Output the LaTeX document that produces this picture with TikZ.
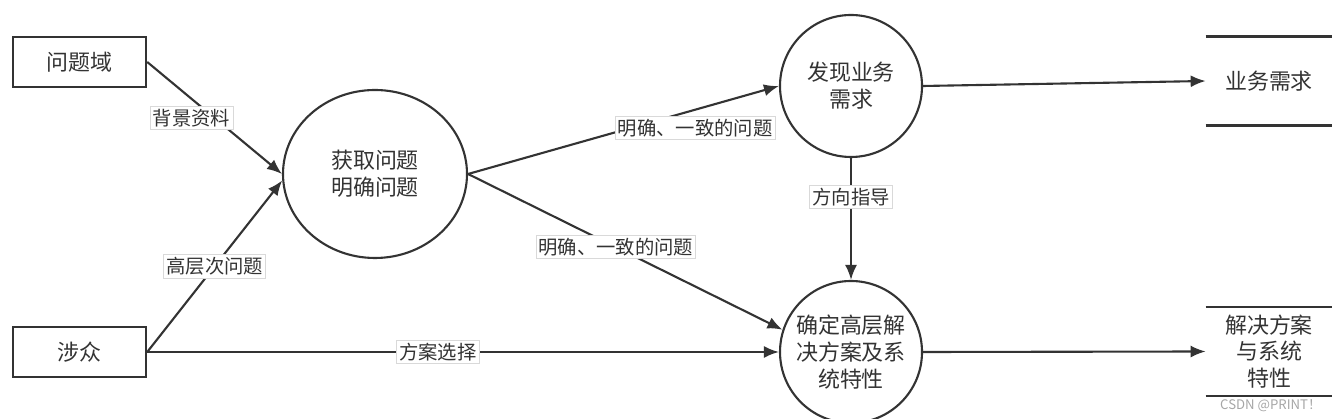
\documentclass[tikz,border=0pt]{standalone}
\usepackage{fontspec}
\setmainfont{Noto Sans CJK SC}
\usetikzlibrary{arrows.meta, positioning, shapes}
\definecolor{ink}{HTML}{333333}

\begin{document}
\begin{tikzpicture}[
    entity/.style={rectangle, draw=ink, line width=1.4pt, minimum width=2.66cm, minimum height=1cm, text=ink, font=\fontsize{12.5}{15.5}\selectfont},
    process/.style={circle, draw=ink, line width=1.2pt, minimum size=2.84cm, inner sep=0pt, align=center, text=ink, font=\fontsize{12.5}{15.5}\selectfont},
    store/.style={minimum width=2.52cm, minimum height=1.76cm, inner sep=0pt, align=center, text=ink, font=\fontsize{12.5}{15}\selectfont},
    flow/.style={draw=ink, line width=1.2pt, -{Latex[length=3mm, width=2.4mm]}},
    lbl/.style={fill=white, draw=gray!30, line width=0.4pt, inner sep=1.5pt, text=ink, font=\fontsize{11}{13}\selectfont}
]
\useasboundingbox (0,0) rectangle (26.8,8.38);

% External entities
\node[entity] (b1) at (1.59,7.14) {问题域};
\node[entity] (b2) at (1.59,1.34) {涉众};

% Processes
\node[process, ellipse, minimum width=3.68cm, minimum height=3.36cm] (c1) at (7.5,4.9) {获取问题\\明确问题};
\node[process] (c2) at (17.02,6.66) {发现业务\\需求};
\node[process] (c3) at (17.02,1.34) {确定高层解\\决方案及系\\统特性};

% Data stores
\node[store] (s1) at (25.38,6.76) {业务需求};
\node[store] (s2) at (25.38,1.35) {解决方案\\与系统\\特性};
\draw[ink, line width=1.4pt] (s1.north west) -- (s1.north east) (s1.south west) -- (s1.south east);
\draw[ink, line width=1.4pt] (s2.north west) -- (s2.north east) (s2.south west) -- (s2.south east);

% Flows
\draw[flow] (b1.east) -- (c1.west) node[lbl, midway, xshift=-0.46cm] (l1) {背景资料};
\draw[flow] (b2.east) -- (c1.184) node[lbl, midway] (l2) {高层次问题};
\draw[flow] (b2.east) -- (c3.west) node[lbl, pos=0.46] (l3) {方案选择};
\draw[flow] (c1.east) -- (c2.west) node[lbl, pos=0.73, yshift=-0.36cm] (l4) {明确、一致的问题};
\draw[flow] (c1.east) -- (c3.162) node[lbl, pos=0.47] (l5) {明确、一致的问题};
\draw[flow] (c2.south) -- (c3.north) node[lbl, pos=0.32] (l6) {方向指导};
\draw[flow] (c2.east) -- (s1.west);
\draw[flow] (c3.east) -- (s2.west);

% Watermark
\node[anchor=east, text=gray!70, font=\fontsize{7.5}{9}\selectfont] (wm) at (26.55,0.26) {CSDN @PRINT！};

\end{tikzpicture}
\end{document}
